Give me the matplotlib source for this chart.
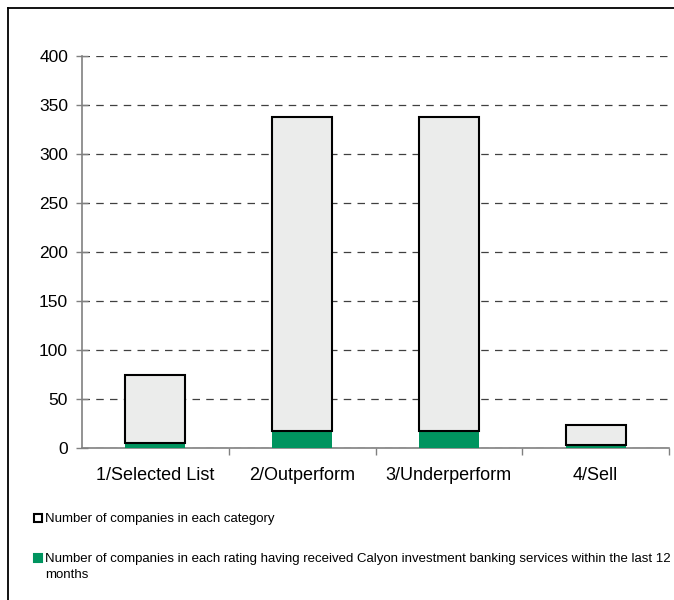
import matplotlib
matplotlib.use("Agg")
import matplotlib.pyplot as plt
from matplotlib.patches import Rectangle
from matplotlib.lines import Line2D
import numpy as np

categories = ["1/Selected List", "2/Outperform", "3/Underperform", "4/Sell"]
total_companies = [74, 338, 338, 23]
ib_companies = [5, 17, 17, 3]
y_ticks = [0, 50, 100, 150, 200, 250, 300, 350, 400]
legend_labels = [
    "Number of companies in each category",
    "Number of companies in each rating having received Calyon investment banking services within the last 12\nmonths",
]

GREY_FILL = "#EBECEB"
GREEN = "#00945F"
AXIS_GREY = "#808080"

plt.rcParams["font.family"] = ["Liberation Sans", "DejaVu Sans"]

fig = plt.figure(figsize=(6.74, 6.0), dpi=100)
ax = fig.add_axes([82 / 674, 1 - 448 / 600, (669 - 82) / 674, (448 - 56) / 600])

x = np.arange(len(categories))
width = 0.41
ax.bar(x, ib_companies, width=width, color=GREEN, edgecolor="none", zorder=3)
ax.bar(x, np.array(total_companies) - np.array(ib_companies), bottom=ib_companies,
       width=width, color=GREY_FILL, edgecolor="black", linewidth=1.5, zorder=3)

ax.set_xlim(-0.5, len(categories) - 0.5)
ax.set_ylim(0, 400)
ax.set_yticks(y_ticks)
ax.set_yticklabels([str(v) for v in y_ticks], fontsize=12.5)
ax.yaxis.grid(True, linestyle=(0, (6, 5)), color="#404040", linewidth=0.9, zorder=0)
ax.set_axisbelow(True)

ax.set_xticks(x)
ax.set_xticklabels(categories, fontsize=13)
ax.tick_params(axis="x", length=0, pad=14)
ax.set_xticks(np.arange(len(categories)) + 0.5, minor=True)
ax.tick_params(axis="x", which="minor", length=5, direction="out", color=AXIS_GREY, width=1)
ax.tick_params(axis="y", length=8, direction="inout", color=AXIS_GREY, width=1, pad=6)

for side in ["top", "right"]:
    ax.spines[side].set_visible(False)
for side in ["left", "bottom"]:
    ax.spines[side].set_color(AXIS_GREY)
    ax.spines[side].set_linewidth(1.2)

# outer frame (top and left edges)
fig.add_artist(Line2D([8 / 674, 1.0], [1 - 8 / 600, 1 - 8 / 600], transform=fig.transFigure,
                      color="black", linewidth=1.3))
fig.add_artist(Line2D([8 / 674, 8 / 674], [1 - 8 / 600, 0.0], transform=fig.transFigure,
                      color="black", linewidth=1.3))

# legend
legend_rows = [(518, 513, "white", "black"), (558, 553, GREEN, GREEN)]
for (ymark, ytext, face, edge), label in zip(legend_rows, legend_labels):
    fig.add_artist(Rectangle((34 / 674, 1 - (ymark + 4) / 600), 8 / 674, 8 / 600,
                             transform=fig.transFigure, facecolor=face, edgecolor=edge,
                             linewidth=1.5))
    fig.text(45 / 674, 1 - ytext / 600, label, fontsize=9.5, va="top",
             ha="left", linespacing=1.45)

fig.savefig("out.png", dpi=100)
